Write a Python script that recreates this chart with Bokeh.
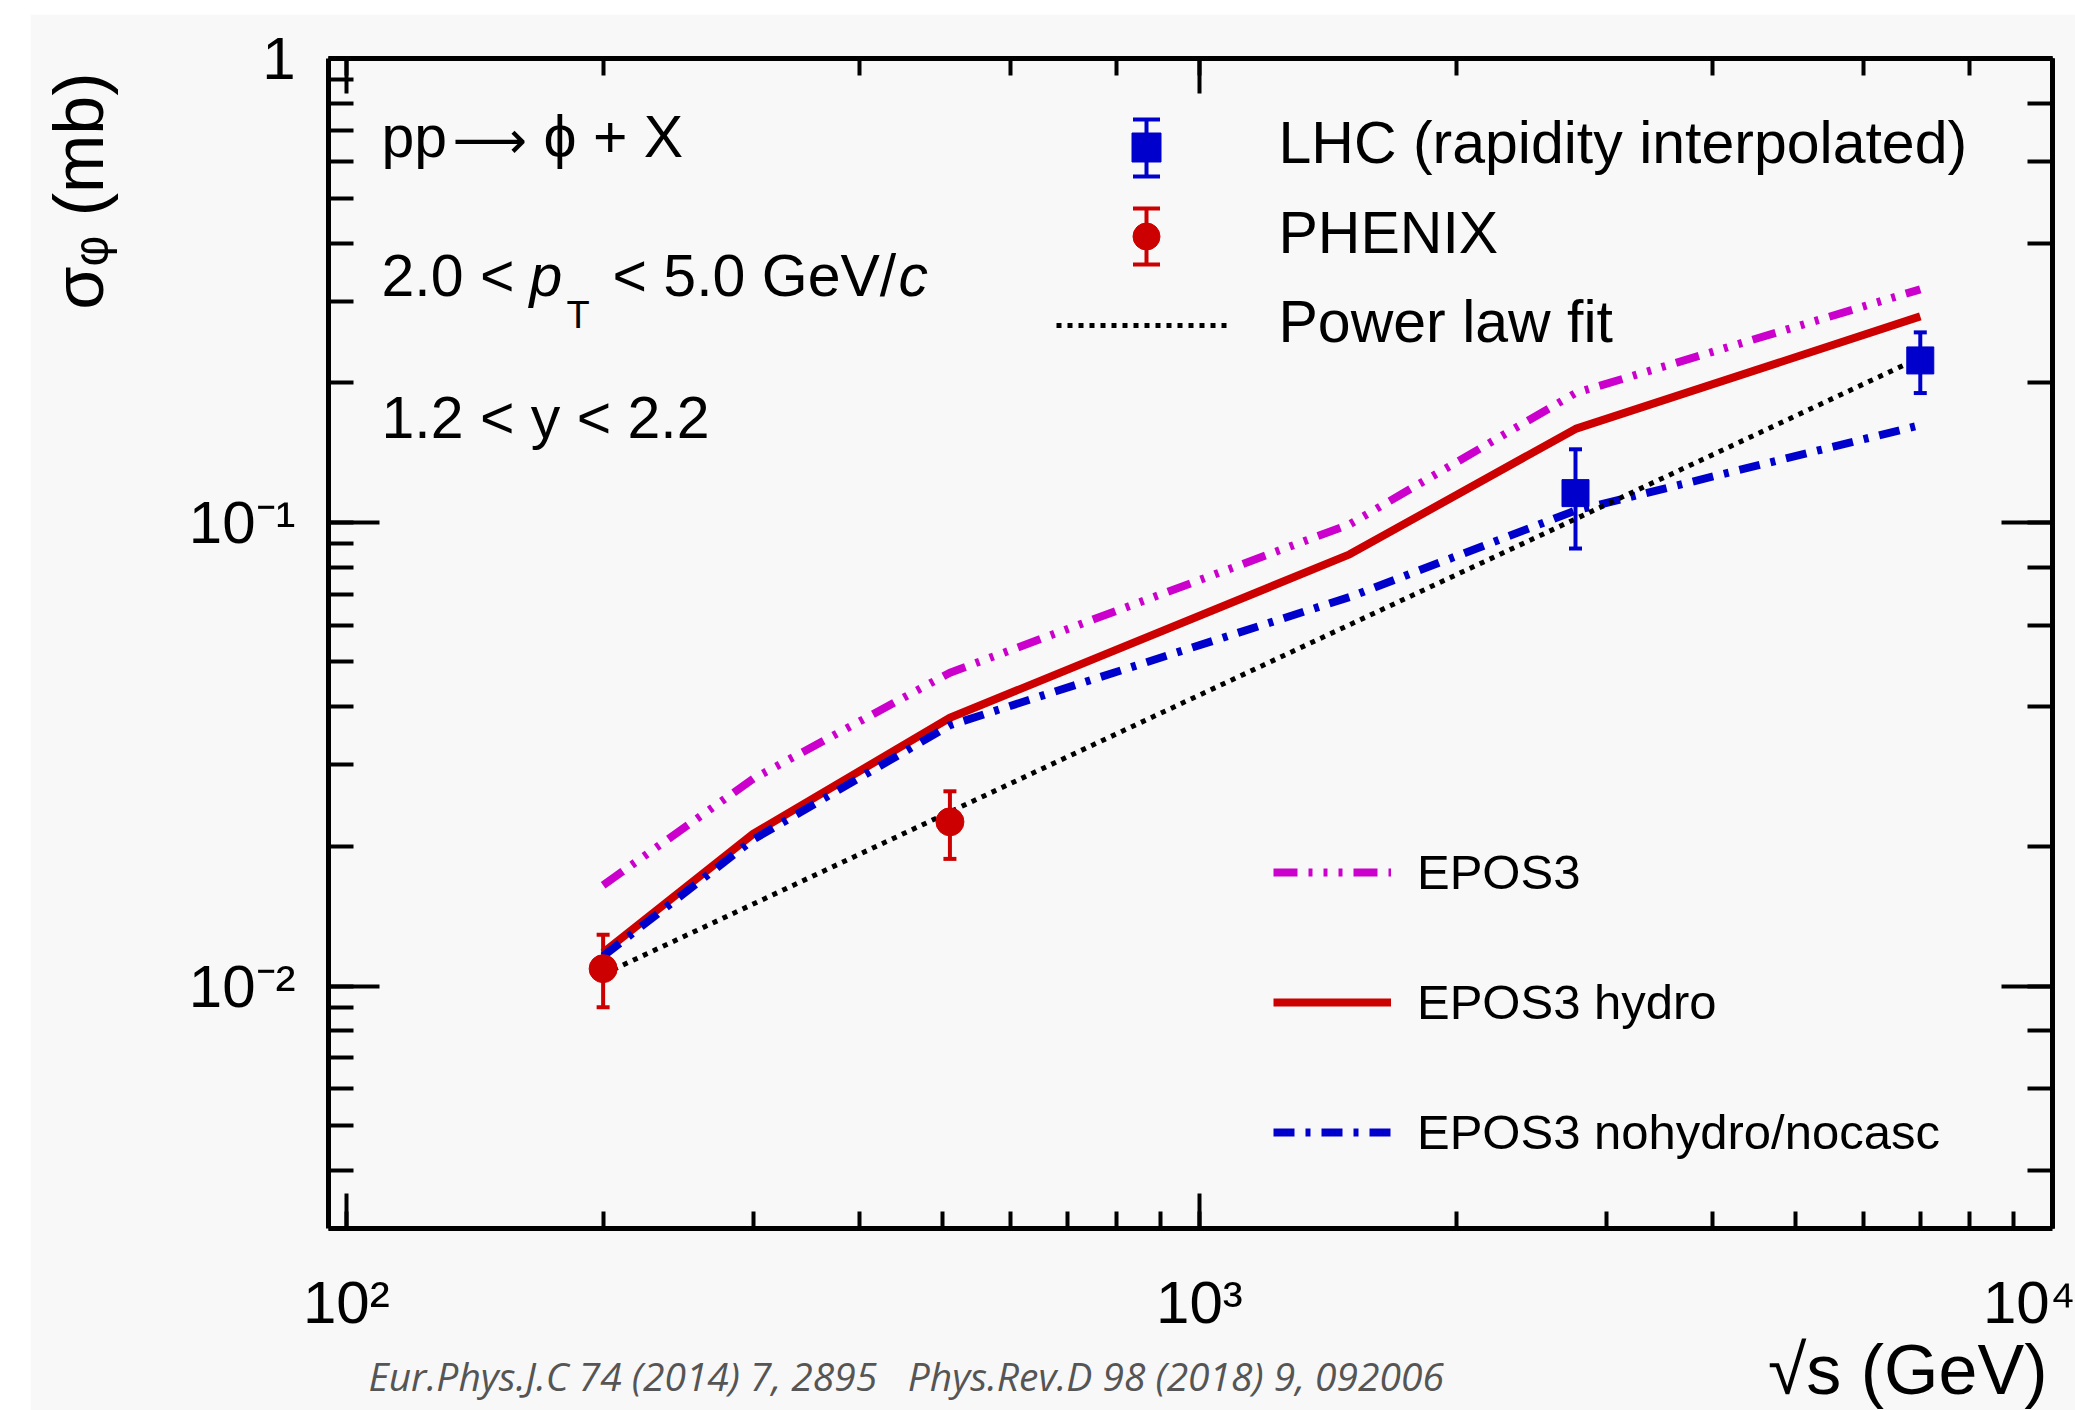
import math
from bokeh.plotting import figure
from bokeh.models import (LogAxis, LogTicker, Label, Whisker, TeeHead, ColumnDataSource,
                          CustomJSTickFormatter, Spacer, Range1d, Legend, LegendItem, GridBox)
from bokeh.layouts import column, row
from bokeh.embed import file_html
from bokeh.resources import INLINE

# ---------------- data ----------------
sqrt_s_model = [200, 300, 510, 1500, 2760, 7000]
epos3 = [0.0165, 0.0280, 0.0474, 0.0990, 0.1900, 0.3180]
epos3_hydro = [0.0118, 0.0213, 0.0379, 0.0853, 0.1590, 0.2780]
epos3_nohydro = [0.0116, 0.0207, 0.0365, 0.0690, 0.1060, 0.1620]

phenix_sqrt_s = [200, 510]
phenix_sigma = [0.0109, 0.0226]
phenix_err_low = [0.0019, 0.0038]
phenix_err_high = [0.0020, 0.0037]

lhc_sqrt_s = [2760, 7000]
lhc_sigma = [0.1156, 0.2234]
lhc_err_low = [0.0278, 0.0334]
lhc_err_high = [0.0281, 0.0334]

fit_sqrt_s = [200, 7000]
fit_sigma = [0.0106, 0.2267]

x_lims = [95.3, 10002.0]
y_lims = [0.003, 1.0005]

RED = "#cc0000"
BLUE = "#0000cc"
MAGENTA = "#cc00cc"
BG = "#f8f8f8"
FONT = "Liberation Sans"
FOOT_FONT = "Open Sans"
FOOT_COLOR = "#555555"

# ---------------- geometry (page pixels) ----------------
OX, OY = 30, 14          # white strip left / top
W, H = 2045, 1396
FL, FR, FT, FB = 328, 2052, 58, 1228   # frame edges on the page

LX0, LX1 = math.log10(x_lims[0]), math.log10(x_lims[1])
LY0, LY1 = math.log10(y_lims[0]), math.log10(y_lims[1])


def dx(px):
    return 10 ** (LX0 + (px - FL) / (FR - FL) * (LX1 - LX0))


def dy(py):
    return 10 ** (LY1 - (py - FT) / (FB - FT) * (LY1 - LY0))


p = figure(width=W, height=H, x_axis_type="log", y_axis_type="log",
           x_range=Range1d(*x_lims), y_range=Range1d(*y_lims),
           output_backend="svg", toolbar_location=None,
           min_border_left=FL - OX, min_border_right=OX + W - FR,
           min_border_top=FT - OY, min_border_bottom=OY + H - FB,
           background_fill_color=BG, border_fill_color=BG)
p.grid.visible = False
p.outline_line_color = None

fmt = CustomJSTickFormatter(code="""
const e = Math.round(Math.log10(tick));
if (e === 0) { return "1"; }
const m = {"-":"\\u207B","0":"\\u2070","1":"\\u00B9","2":"\\u00B2","3":"\\u00B3",
           "4":"\\u2074","5":"\\u2075","6":"\\u2076","7":"\\u2077","8":"\\u2078","9":"\\u2079"};
return "10" + String(e).split("").map(c => m[c]).join("");
""")
blank_fmt = CustomJSTickFormatter(code="return '';")


def style_axis(ax, major_len, minor_len):
    ax.axis_line_width = 5
    ax.axis_line_color = "black"
    ax.major_tick_in = major_len
    ax.major_tick_out = 0
    ax.minor_tick_in = minor_len
    ax.minor_tick_out = 0
    ax.major_tick_line_width = 4
    ax.minor_tick_line_width = 4
    ax.major_tick_line_color = "black"
    ax.minor_tick_line_color = "black"


xa = p.xaxis[0]
ya = p.yaxis[0]
style_axis(xa, 35, 17)
style_axis(ya, 51, 25)
for ax in (xa, ya):
    ax.formatter = fmt
    ax.major_label_text_font = FONT
    ax.major_label_text_font_size = "60px"
    ax.major_label_text_color = "black"
xa.major_label_standoff = 40
ya.major_label_standoff = 33

top = LogAxis(ticker=LogTicker(), formatter=blank_fmt)
style_axis(top, 35, 17)
top.major_label_text_font_size = "1px"
top.major_label_text_alpha = 0
top.major_label_standoff = 0
p.add_layout(top, "above")

right = LogAxis(ticker=LogTicker(), formatter=blank_fmt)
style_axis(right, 51, 25)
right.major_label_text_font_size = "1px"
right.major_label_text_alpha = 0
right.major_label_standoff = 0
p.add_layout(right, "right")

# ---------------- model curves ----------------
r_epos = p.line(sqrt_s_model, epos3, line_color=MAGENTA, line_width=8,
                line_dash="24 11 4 11 4 11 4 11")
r_hydro = p.line(sqrt_s_model, epos3_hydro, line_color=RED, line_width=8)
r_nohydro = p.line(sqrt_s_model, epos3_nohydro, line_color=BLUE, line_width=8,
                   line_dash="21 11 5 11")
p.line(fit_sqrt_s, fit_sigma, line_color="black", line_width=5, line_dash="5 6")

# ---------------- data points ----------------
ph_src = ColumnDataSource(dict(
    x=phenix_sqrt_s, y=phenix_sigma,
    lo=[v - e for v, e in zip(phenix_sigma, phenix_err_low)],
    hi=[v + e for v, e in zip(phenix_sigma, phenix_err_high)]))
lhc_src = ColumnDataSource(dict(
    x=lhc_sqrt_s, y=lhc_sigma,
    lo=[v - e for v, e in zip(lhc_sigma, lhc_err_low)],
    hi=[v + e for v, e in zip(lhc_sigma, lhc_err_high)]))


def add_err(src, color, cap):
    p.add_layout(Whisker(source=src, base="x", lower="lo", upper="hi", dimension="height",
                         line_color=color, line_width=4,
                         upper_head=TeeHead(size=cap, line_color=color, line_width=4),
                         lower_head=TeeHead(size=cap, line_color=color, line_width=4)))


add_err(ph_src, RED, 13)
add_err(lhc_src, BLUE, 13)
p.scatter("x", "y", source=ph_src, marker="circle", size=28, color=RED)
p.scatter("x", "y", source=lhc_src, marker="square", size=27, color=BLUE)

# ---------------- upper legend (drawn by hand) ----------------
kx = dx(1146)
lhc_key = ColumnDataSource(dict(x=[kx], y=[dy(147)], lo=[dy(176)], hi=[dy(119)]))
ph_key = ColumnDataSource(dict(x=[kx], y=[dy(236)], lo=[dy(264)], hi=[dy(208)]))
add_err(lhc_key, BLUE, 27)
add_err(ph_key, RED, 27)
p.scatter("x", "y", source=lhc_key, marker="square", size=29, color=BLUE)
p.scatter("x", "y", source=ph_key, marker="circle", size=27, color=RED)
p.line([dx(1056), dx(1232)], [dy(325), dy(325)], line_color="black", line_width=5,
       line_dash="5 6")


def ptext(text, px, py, size, style="normal", color="black", font=FONT):
    # px, py: wanted left edge / baseline on the page (text is centred on y by the renderer)
    p.add_layout(Label(x=px - FL, y=FB - (py - 0.38 * size), x_units="screen", y_units="screen",
                       text=text, text_font=font, text_font_size=f"{size}px",
                       text_font_style=style, text_color=color,
                       text_align="left", text_baseline="alphabetic"))


ptext("LHC (rapidity interpolated)", 1278, 165, 59)
ptext("PHENIX", 1278, 255, 59)
ptext("Power law fit", 1278, 344, 59)

# ---------------- lower legend (Bokeh legend) ----------------
leg = Legend(items=[LegendItem(label="EPOS3", renderers=[r_epos]),
                    LegendItem(label="EPOS3 hydro", renderers=[r_hydro]),
                    LegendItem(label="EPOS3 nohydro/nocasc", renderers=[r_nohydro])],
             location=(1273 - FL, FB - 1162), orientation="vertical",
             glyph_width=118, glyph_height=60, spacing=70, padding=0, margin=0,
             label_standoff=26, label_text_font=FONT, label_text_font_size="49px",
             label_text_color="black", label_height=60,
             background_fill_alpha=0, border_line_alpha=0)
p.add_layout(leg)

# ---------------- annotations inside the frame ----------------
ptext("pp", 381, 159, 59)
ptext("⟶", 452, 159, 52, font="DejaVu Sans")
ptext("ϕ + X", 543, 159, 59)
ptext("2.0 <", 381, 298, 59)
ptext("p", 529, 298, 59, style="italic")
ptext("T", 566, 329, 38)
ptext("< 5.0 GeV/", 612, 298, 59)
ptext("c", 898, 298, 59, style="italic")
ptext("1.2 < y < 2.2", 381, 440, 59)

# ---------------- transparent overlay plot for texts outside the frame ----------------
# its frame is aligned with p's frame; data coordinates = page pixels (y negated)
q = figure(width=W, height=H, x_range=Range1d(FL, FR), y_range=Range1d(-FB, -FT),
           x_axis_location=None, y_axis_location=None, min_border=0,
           toolbar_location=None, output_backend="svg",
           background_fill_alpha=0, border_fill_alpha=0, outline_line_color=None)
q.grid.visible = False


def qtext(text, px, py, size, place, align="left", angle=0.0, style="normal",
          color="black", font=FONT):
    if angle == 0.0:
        ax_, ay_ = px, py - 0.38 * size
    else:
        ax_, ay_ = px - 0.38 * size, py
    q.add_layout(Label(x=ax_, y=-ay_, x_units="data", y_units="data",
                       text=text, text_font=font, text_font_size=f"{size}px",
                       text_font_style=style, text_color=color, angle=angle,
                       text_align=align, text_baseline="alphabetic"), place)


qtext("√s (GeV)", 2047, 1396, 70, "below", align="right")
NB = "\u00a0"
qtext("Eur.Phys.J.C 74 (2014) 7, 2895" + NB * 3 + "Phys.Rev.D 98 (2018) 9, 092006",
      368, 1390, 39, "below", style="italic", color=FOOT_COLOR, font=FOOT_FONT)
qtext("σᵩ (mb)", 105, 72, 70, "left", align="right", angle=math.pi / 2)

stack = GridBox(children=[(p, 0, 0), (q, 0, 0)])

layout = column(Spacer(width=OX + W, height=OY),
                row(Spacer(width=OX, height=H), stack))

open("out.html", "w").write(file_html(layout, INLINE))
